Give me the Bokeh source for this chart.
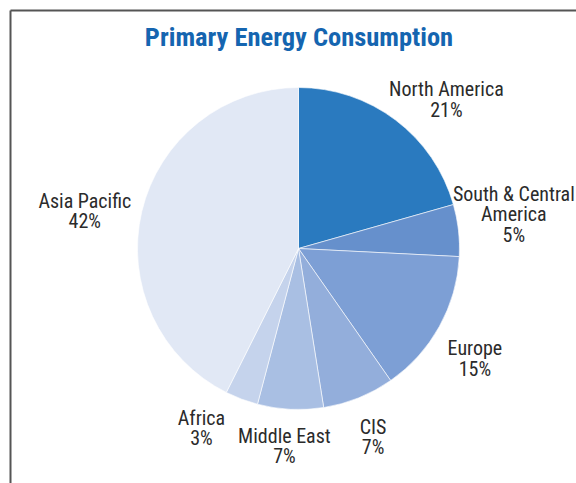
import math
from bokeh.plotting import figure
from bokeh.models import Range1d, ColumnDataSource
from bokeh.core.properties import value
from bokeh.embed import file_html
from bokeh.resources import INLINE

# ---- data ----
regions = ["North America", "South & Central\nAmerica", "Europe", "CIS",
           "Middle East", "Africa", "Asia Pacific"]
shares = [20.6, 5.2, 14.5, 7.2, 6.6, 3.3, 42.6]
pct_labels = ["21%", "5%", "15%", "7%", "7%", "3%", "42%"]
colors = ["#2a7abf", "#6690cc", "#7d9fd5", "#93aedb", "#a9bfe3", "#c5d3ec", "#e1e8f5"]
title_text = "Primary Energy Consumption"

# ---- layout ----
W, H = 576, 483
def py(y):  # page y -> data y
    return H - y

cx, cy, R = 298, py(248), 161
label_dist = [210, 218, 208, 203, 198, 204, 217]
label_nudge = [-7.7, 2.5, -3.0, -0.4, -1.2, -7.7, 3.3]

FONT = "Roboto Condensed"

p = figure(width=W, height=H, output_backend="svg", toolbar_location=None,
           x_range=Range1d(0, W), y_range=Range1d(0, H),
           min_border=0, outline_line_color=None)
p.axis.visible = False
p.grid.visible = False
p.background_fill_color = "white"
p.border_fill_color = "white"

total = sum(shares)
starts, ends, mids = [], [], []
acc = 0.0
for s in shares:
    a0 = 90 - acc / total * 360
    acc += s
    a1 = 90 - acc / total * 360
    starts.append(math.radians(a0))
    ends.append(math.radians(a1))
    mids.append((a0 + a1) / 2)

src = ColumnDataSource(dict(start=starts, end=ends, color=colors))
p.wedge(x=cx, y=cy, radius=R, start_angle="start", end_angle="end", direction="clock",
        fill_color="color", line_color="white", line_alpha=0.6, line_width=1, source=src)

lx, ly, lt = [], [], []
for name, pct, m, d, n in zip(regions, pct_labels, mids, label_dist, label_nudge):
    a = math.radians(m + n)
    lx.append(cx + d * math.cos(a))
    ly.append(cy + d * math.sin(a))
    lt.append(name + "\n" + pct)
p.text(x=lx, y=ly, text=lt, text_align="center", text_baseline="middle",
       text_font=value(FONT), text_font_size="20px", text_color="#2b2b2b",
       text_line_height=0.85)

# title
p.text(x=[298.5], y=[py(36)], text=[title_text], text_align="center", text_baseline="middle",
       text_font=value(FONT), text_font_style="bold", text_font_size="26.5px",
       text_color="#1565b0")

# frame border (top and left edges)
p.segment(x0=[10, 10], y0=[py(10), py(10)], x1=[600, 10], y1=[py(10), py(600)],
          line_color="#555555", line_width=2)

open("out.html", "w").write(file_html(p, INLINE))
